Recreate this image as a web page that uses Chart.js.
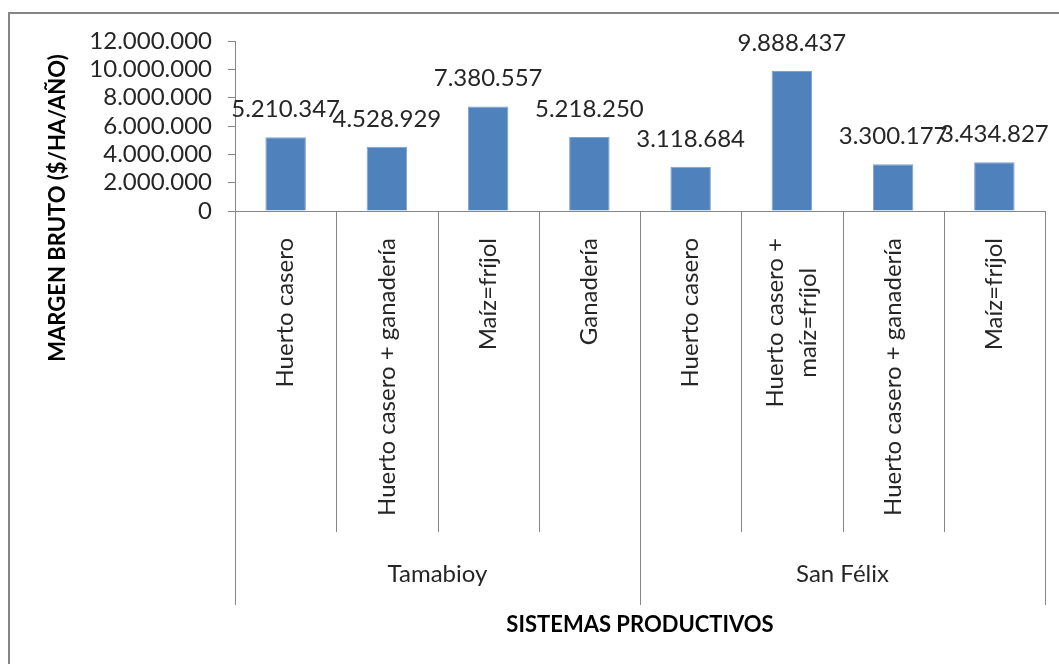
<!DOCTYPE html>
<html>
<head>
<meta charset="utf-8">
<script src="https://cdn.jsdelivr.net/npm/chart.js"></script>
<style>
body{margin:0;background:#fff;}
#caja{width:1059px;height:664px;}
</style>
</head>
<body>
<div id="caja"><canvas id="grafico"></canvas></div>
<script>
const sistemas=["Huerto casero","Huerto casero + ganadería","Maíz=fríjol","Ganadería","Huerto casero",["Huerto casero +","maíz=fríjol"],"Huerto casero + ganadería","Maíz=fríjol"];
const zonas=["Tamabioy","San Félix"];
const sistemasPorZona=[4,4];
const margen=[5210347,4528929,7380557,5218250,3118684,9888437,3300177,3434827];
const ticksY=[0,2000000,4000000,6000000,8000000,10000000,12000000];

const fuente="Lato, 'Open Sans', sans-serif";
const gris="#868686";
const texto="#262626";

function formato(n){
return n.toString().replace(/\B(?=(\d{3})+(?!\d))/g,".");
}

// eje de categorias en dos niveles, titulos, etiquetas de valor y marco
const dibujoExtra={
id:"dibujoExtra",
afterDraw(chart){
let ctx=chart.ctx;
let x=chart.scales.x;
let area=chart.chartArea;
let medio=(x.getPixelForValue(1)-x.getPixelForValue(0))/2;

ctx.save();

ctx.strokeStyle=gris;
ctx.lineWidth=2;
ctx.strokeRect(9,13,1200,800);

// limites de zona
let cortes=[0];
sistemasPorZona.forEach(n=>cortes.push(cortes[cortes.length-1]+n));

ctx.lineWidth=1;
ctx.beginPath();
ctx.moveTo(area.left,Math.round(area.bottom)+0.5);
ctx.lineTo(area.right,Math.round(area.bottom)+0.5);
for(let i=0;i<=sistemas.length;i++){
let px=Math.round(x.getPixelForValue(i)-medio)+0.5;
let fin=cortes.includes(i)?605:532;
ctx.moveTo(px,area.bottom);
ctx.lineTo(px,fin);
}
ctx.stroke();

ctx.fillStyle=texto;
ctx.font="24px "+fuente;

// nombres de los sistemas, girados
sistemas.forEach((s,i)=>{
let lineas=Array.isArray(s)?s:[s];
let ancho=Math.max(...lineas.map(l=>ctx.measureText(l).width));
ctx.save();
ctx.translate(x.getPixelForValue(i),238);
ctx.rotate(-Math.PI/2);
ctx.textAlign="center";
ctx.textBaseline="middle";
lineas.forEach((l,j)=>{
ctx.fillText(l,-ancho/2,(j-(lineas.length-1)/2)*33);
});
ctx.restore();
});

// nombres de las zonas
ctx.textAlign="center";
ctx.textBaseline="middle";
zonas.forEach((z,k)=>{
let a=x.getPixelForValue(cortes[k])-medio;
let b=x.getPixelForValue(cortes[k+1])-medio;
ctx.fillText(z,(a+b)/2,574);
});

// valores sobre las barras
let meta=chart.getDatasetMeta(0);
meta.data.forEach((barra,i)=>{
ctx.fillText(formato(margen[i]),barra.x,barra.y-28);
});

// titulos de los ejes
ctx.fillStyle="#000";
ctx.font="bold 22px "+fuente;
ctx.fillText("SISTEMAS PRODUCTIVOS",(area.left+area.right)/2,625);
ctx.save();
ctx.translate(58,208);
ctx.rotate(-Math.PI/2);
ctx.fillText("MARGEN BRUTO ($/HA/AÑO)",0,0);
ctx.restore();

ctx.restore();
}
};

new Chart(document.getElementById("grafico"),{
type:"bar",
data:{
labels:sistemas,
datasets:[{
data:margen,
backgroundColor:"#4F81BD",
borderColor:"#7EA3D0",
borderWidth:1,
categoryPercentage:1,
barPercentage:0.4
}]
},
options:{
responsive:true,
maintainAspectRatio:false,
animation:false,
layout:{padding:{top:41,right:14,bottom:453,left:0}},
plugins:{
legend:{display:false},
tooltip:{enabled:false}
},
scales:{
x:{
ticks:{display:false},
grid:{display:false},
border:{display:false},
afterFit(scale){scale.height=0;}
},
y:{
min:0,
max:12000000,
afterBuildTicks(scale){
scale.ticks=ticksY.map(v=>({value:v}));
},
afterFit(scale){scale.width=235;},
ticks:{
color:texto,
padding:16,
autoSkip:false,
font:{family:fuente,size:24},
callback:v=>formato(v)
},
grid:{
drawOnChartArea:false,
tickLength:7,
color:gris
},
border:{color:gris}
}
}
},
plugins:[dibujoExtra]
});
</script>
</body>
</html>
